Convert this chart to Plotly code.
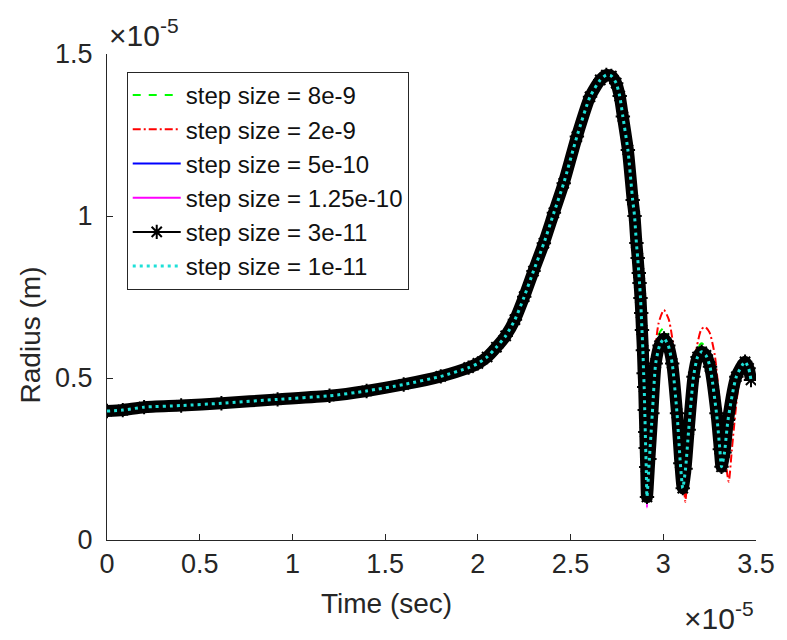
import plotly.graph_objects as go

# Time in units of 1e-5 s, radius in units of 1e-5 m
t_common = [0.0, 0.085, 0.2, 0.4, 0.617, 0.92, 1.2, 1.4, 1.6, 1.8, 1.95, 2.0, 2.05,
            2.1, 2.15, 2.2, 2.25, 2.3, 2.356, 2.41, 2.463, 2.534, 2.605, 2.66, 2.693,
            2.72, 2.746, 2.765, 2.782, 2.809, 2.835, 2.845, 2.855, 2.862, 2.868, 2.872,
            2.877, 2.881, 2.885, 2.89, 2.894, 2.897, 2.9, 2.903, 2.905, 2.908]
r_common = [0.398, 0.401, 0.410, 0.415, 0.422, 0.434, 0.445, 0.46, 0.48, 0.505, 0.532,
            0.545, 0.565, 0.595, 0.63, 0.68, 0.751, 0.83, 0.916, 1.01, 1.101, 1.245, 1.368,
            1.42, 1.435, 1.432, 1.41, 1.37, 1.307, 1.204, 1.049, 1.0, 0.917, 0.870, 0.824,
            0.793, 0.747, 0.701, 0.648, 0.586, 0.515, 0.472, 0.401, 0.333, 0.284, 0.225]

# converged solution after the first collapse (3e-11, 1e-11, 5e-10)
t_tail_fine = [2.912, 2.925, 2.941, 2.959, 2.98, 3.004, 3.027, 3.048, 3.074, 3.092, 3.105,
               3.12, 3.137, 3.163, 3.185, 3.207, 3.23, 3.252, 3.287, 3.305, 3.314, 3.33,
               3.349, 3.394, 3.441, 3.46, 3.473]
r_tail_fine = [0.133, 0.25, 0.391, 0.545, 0.60, 0.622, 0.60, 0.545, 0.391, 0.237, 0.16,
               0.22, 0.34, 0.504, 0.565, 0.581, 0.57, 0.535, 0.391, 0.28, 0.226, 0.27,
               0.37, 0.504, 0.55, 0.53, 0.494]

# 1.25e-10 (magenta) reaches slightly lower at the first collapse
r_tail_125 = [0.10, 0.25, 0.391, 0.545, 0.60, 0.622, 0.60, 0.545, 0.391, 0.237, 0.16,
              0.22, 0.34, 0.504, 0.565, 0.581, 0.57, 0.535, 0.391, 0.28, 0.226, 0.27,
              0.37, 0.504, 0.55, 0.53, 0.494]

# step size 8e-9 (green)
t_tail_8e9 = [2.912, 2.93, 2.955, 2.98, 3.004, 3.03, 3.05, 3.078, 3.095, 3.108, 3.125,
              3.145, 3.17, 3.2, 3.21, 3.235, 3.26, 3.29, 3.31, 3.318, 3.335, 3.355, 3.4,
              3.443, 3.46, 3.473]
r_tail_8e9 = [0.12, 0.33, 0.56, 0.64, 0.655, 0.62, 0.55, 0.38, 0.22, 0.15, 0.26, 0.42,
              0.55, 0.605, 0.607, 0.58, 0.52, 0.38, 0.26, 0.22, 0.28, 0.38, 0.51, 0.55,
              0.53, 0.494]

# step size 2e-9 (red)
t_tail_2e9 = [2.912, 2.93, 2.95, 2.975, 3.003, 3.03, 3.066, 3.09, 3.11, 3.119, 3.135,
              3.16, 3.181, 3.205, 3.225, 3.25, 3.278, 3.305, 3.33, 3.353, 3.37, 3.40,
              3.43, 3.455, 3.473]
r_tail_2e9 = [0.12, 0.35, 0.55, 0.67, 0.71, 0.68, 0.55, 0.35, 0.18, 0.118, 0.25, 0.47,
              0.597, 0.65, 0.658, 0.64, 0.57, 0.42, 0.27, 0.18, 0.28, 0.45, 0.54, 0.54,
              0.50]

labels = ["step size = 8e-9", "step size = 2e-9", "step size = 5e-10",
          "step size = 1.25e-10", "step size = 3e-11", "step size = 1e-11"]

x_ticks = [0, 0.5, 1, 1.5, 2, 2.5, 3, 3.5]
x_ticktext = ["0", "0.5", "1", "1.5", "2", "2.5", "3", "3.5"]
y_ticks = [0, 0.5, 1, 1.5]
y_ticktext = ["0", "0.5", "1", "1.5"]

FONT = "Arial, 'Liberation Sans', Helvetica, sans-serif"
AX = "#262626"

fig = go.Figure()

def series(tail_t, tail_r):
    return t_common + tail_t, r_common + tail_r

x, y = series(t_tail_8e9, r_tail_8e9)
fig.add_trace(go.Scatter(x=x, y=y, mode="lines", name=labels[0], legendgroup="a",
                         line=dict(color="#00ff00", width=2, dash="8px,8px", shape="spline", smoothing=0.6)))
x, y = series(t_tail_2e9, r_tail_2e9)
fig.add_trace(go.Scatter(x=x, y=y, mode="lines", name=labels[1], legendgroup="b",
                         line=dict(color="#ff0000", width=2, dash="8px,3px,2px,3px", shape="spline", smoothing=0.6)))
x, y = series(t_tail_fine, r_tail_fine)
fig.add_trace(go.Scatter(x=x, y=y, mode="lines", name=labels[2], legendgroup="c",
                         line=dict(color="#0000ff", width=2, shape="spline", smoothing=0.6)))
x, y = series(t_tail_fine, r_tail_125)
fig.add_trace(go.Scatter(x=x, y=y, mode="lines", name=labels[3], legendgroup="d",
                         line=dict(color="#ff00ff", width=2, shape="spline", smoothing=0.6)))
x, y = series(t_tail_fine, r_tail_fine)
# dense marker band of the 3e-11 solution
fig.add_trace(go.Scatter(x=x, y=y, mode="lines", showlegend=False, hoverinfo="skip",
                         line=dict(color="black", width=12, shape="spline", smoothing=0.6),
                         legendgroup="e"))
fig.add_trace(go.Scatter(x=x, y=y, mode="lines+markers", name=labels[4], legendgroup="e",
                         line=dict(color="black", width=2, shape="spline", smoothing=0.6),
                         marker=dict(symbol="asterisk-open", size=12, color="black",
                                     line=dict(color="black", width=2))))
fig.add_trace(go.Scatter(x=x, y=y, mode="lines", name=labels[5], legendgroup="f",
                         line=dict(color="#1ee0d8", width=3, dash="3px,4px", shape="spline", smoothing=0.6)))

axis_common = dict(showgrid=False, zeroline=False, showline=True, linecolor=AX,
                   linewidth=1, ticks="inside", ticklen=6, tickcolor=AX, mirror=False,
                   tickfont=dict(family=FONT, size=27, color=AX))

fig.update_layout(
    width=787, height=640,
    margin=dict(l=107, r=22, t=54, b=100),
    paper_bgcolor="white", plot_bgcolor="white",
    font=dict(family=FONT, color=AX),
    xaxis=dict(range=[0, 3.5], tickvals=x_ticks, ticktext=x_ticktext, **axis_common),
    yaxis=dict(range=[0, 1.5], tickvals=y_ticks, ticktext=y_ticktext,
               ticklabelstandoff=8, **axis_common),
    legend=dict(x=0.0304, y=0.963, xanchor="left", yanchor="top",
                bgcolor="white", bordercolor=AX, borderwidth=1,
                font=dict(family=FONT, size=24, color="#111111"),
                itemwidth=48, tracegroupgap=0, traceorder="normal"),
    showlegend=True,
)

# axis titles
fig.add_annotation(text="Time (sec)", xref="paper", yref="paper",
                   x=(390 - 107) / 658, y=-0.13, xanchor="center", yanchor="middle",
                   showarrow=False, font=dict(family=FONT, size=28, color=AX))
fig.add_annotation(text="Radius (m)", xref="paper", yref="paper", textangle=-90,
                   x=-0.118, y=(540 - 335) / 486, xanchor="center", yanchor="middle",
                   showarrow=False, font=dict(family=FONT, size=28, color=AX))

# exponent labels
fig.add_annotation(text="×10<sup>-5</sup>", xref="paper", yref="paper", x=0.0, y=1.0,
                   xanchor="left", yanchor="bottom", showarrow=False,
                   font=dict(family=FONT, size=30, color=AX))
fig.add_annotation(text="×10<sup>-5</sup>", xref="paper", yref="paper", x=1.0, y=-0.2,
                   xanchor="right", yanchor="bottom", showarrow=False,
                   font=dict(family=FONT, size=30, color=AX))

fig.write_html("out.html")
